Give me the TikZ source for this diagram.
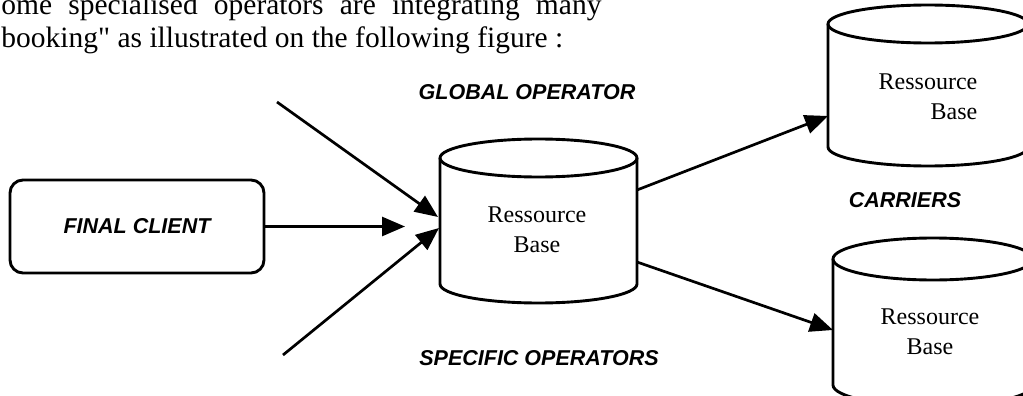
\documentclass[tikz,border=0pt]{standalone}
\usepackage{fontspec}
\setmainfont{Liberation Serif}
\newfontfamily\plainserif{Liberation Serif}[Ligatures=TeXOff]
\newfontfamily\lblfont{Liberation Sans}
\usetikzlibrary{arrows.meta}
\newcommand\cylshape[5]{%
  \draw[cylline] (#1-#2,#3) -- (#1-#2,#4) arc[start angle=180,end angle=0,x radius=#2,y radius=#5] -- (#1+#2,#3);
  \draw[cylline] (#1,#3) ellipse[x radius=#2,y radius=#5];}
\begin{document}
\begin{tikzpicture}[x=1pt,y=-1pt,
  line width=2.9pt,
  lbl/.style={font=\lblfont\bfseries\itshape\fontsize{21.5}{24}\selectfont, inner sep=0pt},
  body/.style={font=\fontsize{24}{30}\selectfont, inner sep=0pt},
  toptext/.style={font=\plainserif\fontsize{29.5}{33}\selectfont, inner sep=0pt, anchor=base west},
  arr/.style={-{Triangle[length=23pt,width=19pt]}, line width=2.7pt},
  cylline/.style={line width=2.9pt, line join=round}
]
\useasboundingbox (0,0) rectangle (1023,396);

% paragraph text
\node[toptext] (txt1) at (0,15) {\makebox[600pt][s]{ome\hfill specialised\hfill operators\hfill are\hfill integrating\hfill many}};
\node[toptext] (txt2) at (0,48) {booking" as illustrated on the following figure :};

% final client
\node[draw, rounded corners=13pt, minimum width=254pt, minimum height=93pt, lbl] (fc) at (137,226.5) {FINAL CLIENT};

% cylinders
\cylshape{538.5}{98.5}{158}{284}{19}
\cylshape{928}{100}{24}{147}{19}
\cylshape{933}{100}{259}{385}{21}

\node[body, align=center] (mid) at (537,229.5) {Ressource\\Base};
\node[body, align=right] (tr) at (928,97) {Ressource\\Base};
\node[body, align=center] (br) at (930,332) {Ressource\\Base};

% labels
\node[lbl] (gop) at (527,92) {GLOBAL OPERATOR};
\node[lbl] (sop) at (539,358) {SPECIFIC OPERATORS};
\node[lbl] (car) at (905,200) {CARRIERS};

% connector end points
\coordinate (t1) at (405,226.5);
\coordinate (u0) at (277,102);
\coordinate (u1) at (438,217);
\coordinate (w0) at (283,355);
\coordinate (w1) at (439,228);
\coordinate (o1s) at (637,190);
\coordinate (o1e) at (828,116);
\coordinate (o2s) at (637,262);
\coordinate (o2e) at (833,330);

\draw[arr] (fc.east) -- (t1);
\draw[arr] (u0) -- (u1);
\draw[arr] (w0) -- (w1);
\draw[arr] (o1s) -- (o1e);
\draw[arr] (o2s) -- (o2e);
\end{tikzpicture}
\end{document}
